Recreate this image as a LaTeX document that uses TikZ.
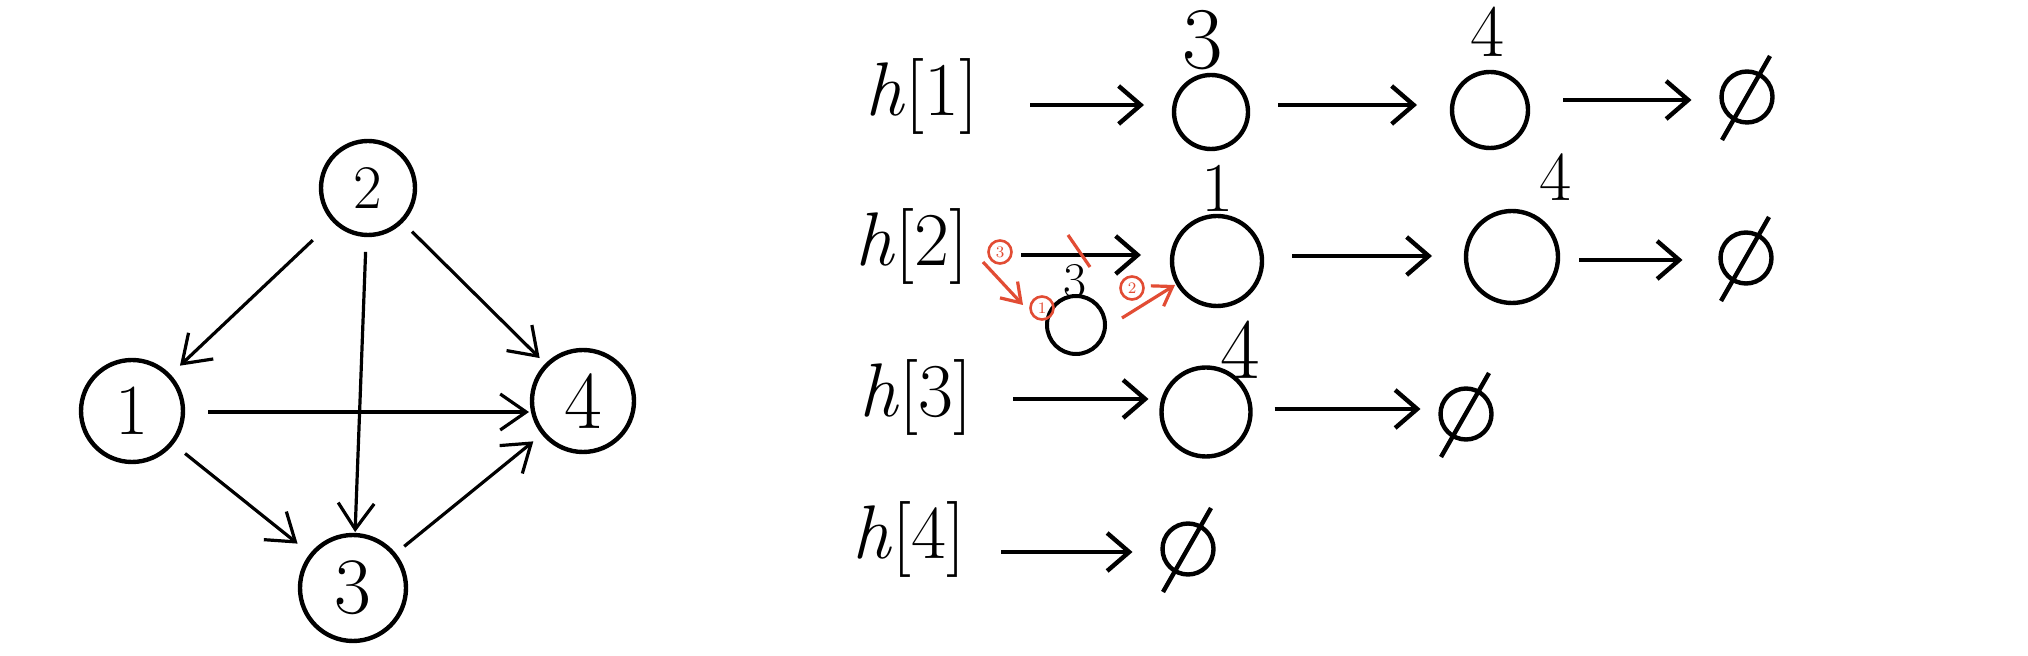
\documentclass[tikz,border=0pt]{standalone}
\usetikzlibrary{arrows.meta,calc}
\definecolor{pen}{RGB}{226,76,52}
\newcommand\fsz[1]{\fontsize{#1}{#1}\selectfont}
\tikzset{
  gnode/.style={circle, draw, line width=2.2pt, inner sep=0pt, outer sep=0pt},
  lnode/.style={circle, draw, line width=2.2pt, inner sep=0pt, outer sep=0pt},
  nul/.style={circle, draw, line width=2.2pt, inner sep=0pt, outer sep=0pt, minimum size=25.5pt},
  slash/.style={line width=2.2pt},
  garr/.style={line width=1.6pt, -{Straight Barb[length=13pt,width=18pt]}},
  rarr/.style={line width=2.2pt, -{Straight Barb[length=11pt,width=19pt]}},
  htext/.style={inner sep=0pt, outer sep=0pt, font=\fsz{38}},
  lab/.style={inner sep=0pt, outer sep=0pt},
  redline/.style={draw=pen, line width=1.6pt},
  redarr/.style={draw=pen, line width=1.6pt, -{Straight Barb[length=9pt,width=12pt]}},
  rnum/.style={circle, draw=pen, text=pen, line width=1.3pt, inner sep=0pt, outer sep=0pt, minimum size=11.5pt, font=\fsz{8}}
}
\begin{document}
\begin{tikzpicture}[x=0.5pt,y=-0.5pt]
\fill[white] (0,0) rectangle (2028,656);
\useasboundingbox (0,0) rectangle (2028,656);

% ---- left graph ----
\node[gnode, minimum size=47pt, font={\fsz{31}}] (n2) at (368,188) {2};
\node[gnode, minimum size=51pt, font={\fsz{36}}] (n1) at (132,411) {1};
\node[gnode, minimum size=51pt, font={\fsz{41}}] (n4) at (583,401) {4};
\node[gnode, minimum size=53pt, font={\fsz{40}}] (n3) at (353,588) {3};

\draw[garr, shorten <=14.5pt, shorten >=7.5pt] (n2) -- (n1);
\draw[garr, shorten <=8.5pt, shorten >=1.5pt] (n2) -- (n3);
\draw[garr, shorten <=7.5pt, shorten >=5pt] (n2) -- (n4);
\draw[garr, shorten <=12.5pt, shorten >=1.5pt] ([yshift=-0.5pt]n1.east) -- ([yshift=-0.5pt]n1.east -| n4.west);
\draw[garr, shorten <=8.5pt, shorten >=9pt] (n1) -- (n3);
\draw[garr, shorten <=6.5pt, shorten >=6.5pt] (n3) -- (n4);

% ---- row 1 ----
\node[htext] (h1) at (922,97) {\textit{h}[1]};
\node[lnode, minimum size=37pt] (a1) at (1211,112) {};
\node[lab, font={\fsz{44}}] (la1) at (1203,40) {3};
\node[lnode, minimum size=38pt] (a2) at (1490,110) {};
\node[lab, font={\fsz{37}}] (la2) at (1487,32) {4};
\node[nul] (z1) at (1747,97) {};
\draw[slash] ([shift={(-25,43)}]z1.center) -- ([shift={(23,-41)}]z1.center);
\draw[rarr, shorten <=26pt, shorten >=15pt] ([yshift=-4pt]h1.east) -- ([yshift=-4pt]h1.east -| a1.west);
\draw[rarr, shorten <=15pt, shorten >=17.5pt] ([yshift=3.5pt]a1.east) -- ([yshift=3.5pt]a1.east -| a2.west);
\draw[rarr, shorten <=17.5pt, shorten >=15pt] ([yshift=5pt]a2.east) -- ([yshift=5pt]a2.east -| z1.west);

% ---- row 2 ----
\node[htext] (h2) at (912,247) {\textit{h}[2]};
\node[lnode, minimum size=45pt] (b1) at (1217,261) {};
\node[lab, font={\fsz{35}}] (lb1) at (1218,188) {1};
\node[lnode, minimum size=46pt] (b2) at (1512,257) {};
\node[lab, font={\fsz{35}}] (lb2) at (1556,177) {4};
\node[nul] (z2) at (1746,258) {};
\draw[slash] ([shift={(-25,43)}]z2.center) -- ([shift={(23,-41)}]z2.center);
\node[lnode, minimum size=29pt, line width=2pt] (c) at (1076,325) {};
\node[lab, font={\fsz{25}}] (lc) at (1075,281) {3};
\draw[rarr, shorten <=26.5pt, shorten >=15.5pt] ([yshift=-4pt]h2.east) -- ([yshift=-4pt]h2.east -| b1.west);
\draw[rarr, shorten <=15pt, shorten >=17pt] ([yshift=2.5pt]b1.east) -- ([yshift=2.5pt]b1.east -| b2.west);
\draw[rarr, shorten <=10.5pt, shorten >=19pt] ([yshift=-1.5pt]b2.east) -- ([yshift=-1.5pt]b2.east -| z2.west);

% red annotations
\draw[redline] (1068,235) -- (1090,267);
\coordinate (r1a) at (983,262);
\coordinate (r1b) at (1023,305);
\draw[redarr] (r1a) -- (r1b);
\coordinate (r2a) at (1122,318);
\coordinate (r2b) at (1175,285);
\draw[redarr] (r2a) -- (r2b);
\node[rnum] (q3) at (1000,252) {3};
\node[rnum] (q1) at (1042,308) {1};
\node[rnum] (q2) at (1132,288) {2};

% ---- row 3 ----
\node[htext] (h3) at (916,398) {\textit{h}[3]};
\node[lnode, minimum size=44.5pt] (d1) at (1206,412) {};
\node[lab, font={\fsz{43}}] (ld1) at (1240,350) {4};
\node[nul] (z3) at (1466,414) {};
\draw[slash] ([shift={(-25,43)}]z3.center) -- ([shift={(23,-41)}]z3.center);
\draw[rarr, shorten <=20.5pt, shorten >=6.5pt] ([yshift=-0.5pt]h3.east) -- ([yshift=-0.5pt]h3.east -| d1.west);
\draw[rarr, shorten <=12pt, shorten >=10pt] ([yshift=1.5pt]d1.east) -- ([yshift=1.5pt]d1.east -| z3.west);

% ---- row 4 ----
\node[htext] (h4) at (909,540) {\textit{h}[4]};
\node[nul] (z4) at (1188,549) {};
\draw[slash] ([shift={(-25,43)}]z4.center) -- ([shift={(23,-41)}]z4.center);
\draw[rarr, shorten <=18pt, shorten >=15pt] ([yshift=-6pt]h4.east) -- ([yshift=-6pt]h4.east -| z4.west);
\end{tikzpicture}
\end{document}
